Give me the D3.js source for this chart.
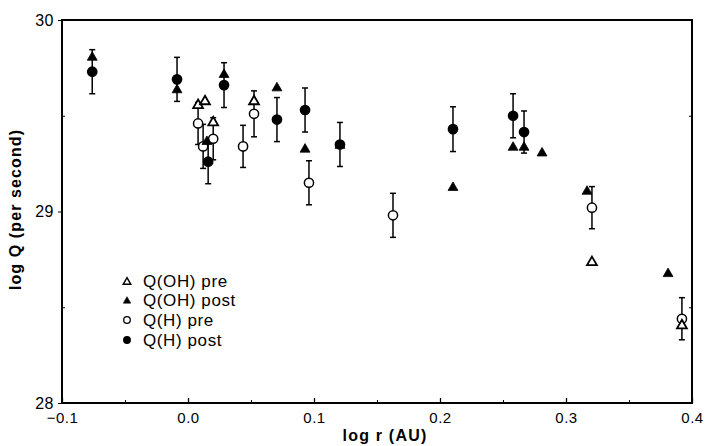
<!DOCTYPE html>
<html><head><meta charset="utf-8">
<script src="https://cdn.jsdelivr.net/npm/d3@7"></script>
<style>body{margin:0;background:#fff}svg{display:block}text{font-family:"Liberation Sans",Arial,sans-serif;fill:#000}</style>
</head><body><svg id="c" width="705" height="446"></svg>
<script>
const xTicks = [-0.1, 0.0, 0.1, 0.2, 0.3, 0.4];
const xTickLabels = ["\u22120.1", "0.0", "0.1", "0.2", "0.3", "0.4"];
const xMinor = [-0.05, 0.05, 0.15, 0.25, 0.35];
const yTicks = [28, 29, 30];
const yMinor = [28.5, 29.5];

const ohPreX = [0.008, 0.0135, 0.020, 0.0524, 0.3206, 0.392];
const ohPreY = [29.56, 29.58, 29.47, 29.58, 28.74, 28.41];

const ohPostX = [-0.076, -0.0087, 0.015, 0.0286, 0.0706, 0.0929, 0.1206, 0.2103, 0.258, 0.2667, 0.281, 0.3167, 0.381];
const ohPostY = [29.81, 29.64, 29.37, 29.72, 29.65, 29.33, 29.35, 29.13, 29.34, 29.34, 29.31, 29.11, 28.68];

const hPreX = [0.008, 0.012, 0.020, 0.0437, 0.0524, 0.096, 0.1627, 0.3206, 0.392];
const hPreY = [29.46, 29.34, 29.38, 29.34, 29.51, 29.15, 28.98, 29.02, 28.44];
const hPreErr = [0.11, 0.115, 0.11, 0.11, 0.12, 0.115, 0.115, 0.11, 0.11];

const hPostX = [-0.076, -0.0087, 0.016, 0.0286, 0.0706, 0.0929, 0.1206, 0.2103, 0.258, 0.2667];
const hPostY = [29.73, 29.69, 29.26, 29.66, 29.48, 29.53, 29.35, 29.43, 29.50, 29.415];
const hPostErr = [0.115, 0.115, 0.115, 0.117, 0.115, 0.115, 0.115, 0.117, 0.115, 0.11];

const legendLabels = ["Q(OH) pre", "Q(OH) post", "Q(H) pre", "Q(H) post"];

const svg = d3.select("#c");
const L = 62, R = 692, T = 20, B = 403;
const x = d3.scaleLinear().domain([-0.1, 0.4]).range([L, R]);
const y = d3.scaleLinear().domain([28, 30]).range([B, T]);

// frame
svg.append("rect").attr("x", L).attr("y", T).attr("width", R - L).attr("height", B - T)
  .attr("fill", "none").attr("stroke", "#000").attr("stroke-width", 2);

// x axis
const gx = svg.append("g").attr("transform", `translate(0,${B})`);
gx.call(d3.axisBottom(x).tickValues(xTicks).tickSize(-5).tickPadding(9)
  .tickFormat((d, i) => xTickLabels[i]));
gx.select(".domain").remove();
gx.selectAll("text").attr("font-size", 15).attr("letter-spacing", 0.5).attr("dy", "0.71em");
gx.selectAll("line").attr("stroke-width", 1.3);
svg.append("g").attr("transform", `translate(0,${B})`)
  .call(d3.axisBottom(x).tickValues(xMinor).tickSize(-3).tickFormat(""))
  .call(g => g.select(".domain").remove());

// y axis
const gy = svg.append("g").attr("transform", `translate(${L},0)`);
gy.call(d3.axisLeft(y).tickValues(yTicks).tickSize(4).tickPadding(4).tickFormat(d3.format("d")));
gy.select(".domain").remove();
gy.selectAll("text").attr("font-size", 16).attr("letter-spacing", 0.5);
svg.append("g").attr("transform", `translate(${L},0)`)
  .call(d3.axisRight(y).tickValues(yMinor).tickSize(3).tickFormat(""))
  .call(g => g.select(".domain").remove());
svg.append("g").attr("transform", `translate(${R},0)`)
  .call(d3.axisLeft(y).tickValues(yMinor).tickSize(3).tickFormat(""))
  .call(g => g.select(".domain").remove());

// titles
svg.append("text").attr("x", (L + R) / 2 + 8).attr("y", 441).attr("text-anchor", "middle")
  .attr("font-size", 16).attr("letter-spacing", 1.2).attr("font-weight", "bold").text("log r (AU)");
svg.append("text").attr("transform", `translate(21,${(T + B) / 2 - 2}) rotate(-90)`)
  .attr("text-anchor", "middle").attr("font-size", 16).attr("letter-spacing", 1.1).attr("font-weight", "bold")
  .text("log Q (per second)");

// error bars
function errBars(xs, ys, es) {
  const g = svg.append("g").attr("stroke", "#000").attr("stroke-width", 1.5);
  xs.forEach((xv, i) => {
    const px = x(xv), y1 = y(ys[i] + es[i]), y2 = y(ys[i] - es[i]);
    g.append("line").attr("x1", px).attr("x2", px).attr("y1", y1).attr("y2", y2);
    g.append("line").attr("x1", px - 3).attr("x2", px + 3).attr("y1", y1).attr("y2", y1);
    g.append("line").attr("x1", px - 3).attr("x2", px + 3).attr("y1", y2).attr("y2", y2);
  });
}
errBars(hPreX, hPreY, hPreErr);
errBars(hPostX, hPostY, hPostErr);

const tri = d3.symbol().type(d3.symbolTriangle).size(42);
const triSmall = d3.symbol().type(d3.symbolTriangle).size(24);

function triangles(xs, ys, filled) {
  svg.append("g").selectAll("path").data(xs).join("path")
    .attr("d", tri).attr("transform", (d, i) => `translate(${x(d)},${y(ys[i]) + 1})`)
    .attr("fill", filled ? "#000" : "#fff").attr("stroke", "#000").attr("stroke-width", filled ? 0.8 : 1.8);
}
function circles(xs, ys, filled) {
  svg.append("g").selectAll("circle").data(xs).join("circle")
    .attr("cx", d => x(d)).attr("cy", (d, i) => y(ys[i])).attr("r", 4.6)
    .attr("fill", filled ? "#000" : "#fff").attr("stroke", "#000").attr("stroke-width", 1.5);
}
circles(hPreX, hPreY, false);
triangles(ohPreX, ohPreY, false);
circles(hPostX, hPostY, true);
triangles(ohPostX, ohPostY, true);

// legend
const lg = svg.append("g");
const ly = [281, 300, 320, 340];
legendLabels.forEach((lab, i) => {
  const cy = ly[i];
  if (i < 2) {
    lg.append("path").attr("d", triSmall).attr("transform", `translate(127,${cy + 1})`)
      .attr("fill", i === 1 ? "#000" : "#fff").attr("stroke", "#000").attr("stroke-width", i === 1 ? 0.6 : 1.5);
  } else {
    lg.append("circle").attr("cx", 127).attr("cy", cy).attr("r", 3.3)
      .attr("fill", i === 3 ? "#000" : "#fff").attr("stroke", "#000").attr("stroke-width", 1.3);
  }
  lg.append("text").attr("x", 143).attr("y", cy + 5.5).attr("font-size", 17).attr("letter-spacing", 0.6).text(lab);
});
</script></body></html>
